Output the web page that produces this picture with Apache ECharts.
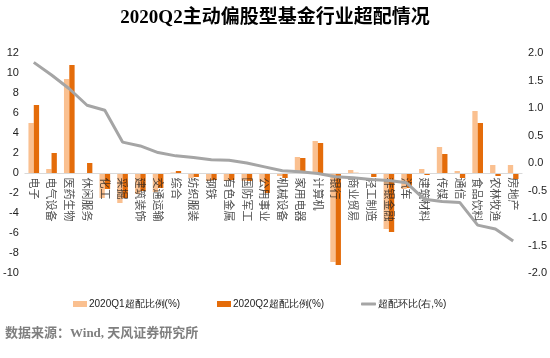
<!DOCTYPE html>
<html>
<head>
<meta charset="utf-8">
<script src="https://cdn.jsdelivr.net/npm/echarts@6/dist/echarts.min.js"></script>
<style>html,body{margin:0;padding:0;background:#fff;}#c{width:550px;height:358px;}</style>
</head>
<body>
<div id="c"></div>
<script>
const categories = ['电子','电气设备','医药生物','休闲服务','化工','采掘','建筑装饰','交通运输','综合','纺织服装','钢铁','有色金属','国防军工','公用事业','机械设备','家用电器','计算机','银行','商业贸易','轻工制造','非银金融','汽车','建筑材料','传媒','通信','食品饮料','农林牧渔','房地产'];
const q1 = [5.0, 0.4, 9.4, 0.0, -2.5, -3.0, -2.1, -1.9, 0.05, -0.5, -0.8, -0.8, -0.8, -0.9, -0.3, 1.6, 3.2, -8.9, 0.3, -0.1, -5.6, -1.6, 0.4, 2.6, 0.2, 6.2, 0.8, 0.8];
const q2 = [6.8, 2.0, 10.8, 1.0, -1.6, -2.5, -1.8, -1.5, 0.2, -0.4, -0.7, -0.7, -0.8, -2.0, -0.5, 1.5, 3.0, -9.2, 0.02, -0.4, -5.9, -1.5, -0.2, 1.9, -0.5, 5.0, -0.3, -0.6];
const change = [1.83, 1.60, 1.35, 1.05, 0.96, 0.38, 0.31, 0.19, 0.13, 0.10, 0.06, 0.05, 0.0, -0.07, -0.14, -0.16, -0.19, -0.25, -0.27, -0.30, -0.32, -0.36, -0.66, -0.70, -0.72, -1.13, -1.20, -1.42];
const seriesNames = ['2020Q1超配比例(%)', '2020Q2超配比例(%)', '超配环比(右,%)'];
const leftAxis = {min: -10, max: 12, interval: 2};
const rightAxis = {min: -2, max: 2, interval: 0.5};
const titleText = '2020Q2主动偏股型基金行业超配情况';
const sourceText = '数据来源：Wind, 天风证券研究所';

const numFont = '"Liberation Sans Narrow", "Liberation Sans", Arial, sans-serif';
const legendText = {fontSize: 10, color: '#222', fontFamily: numFont, padding: [0,0,0,-3]};
const chart = echarts.init(document.getElementById('c'), null, {renderer: 'canvas'});
chart.setOption({
  backgroundColor: '#fff',
  animation: false,
  title: {
    text: titleText, left: 'center', top: 4,
    textStyle: {fontSize: 19, fontWeight: 'bold', color: '#000', fontFamily: '"Liberation Serif", "Noto Sans CJK SC", serif'}
  },
  grid: {left: 20, right: 26, top: 53, bottom: 85, containLabel: false},
  legend: [
    {top: 294, left: 68, itemWidth: 14, itemHeight: 6, textStyle: legendText, data: [{name: seriesNames[0], icon: 'rect'}]},
    {top: 294, left: 212, itemWidth: 14, itemHeight: 6, textStyle: legendText, data: [{name: seriesNames[1], icon: 'rect'}]},
    {top: 294, left: 356, itemWidth: 15, itemHeight: 3, textStyle: legendText, data: [{name: seriesNames[2], icon: 'roundRect'}]}
  ],
  xAxis: {
    type: 'category', data: categories, z: 3,
    axisLine: {onZero: true, lineStyle: {color: '#D9D9D9', width: 1}},
    axisTick: {show: false},
    axisLabel: {show: false}
  },
  yAxis: [
    {type: 'value', min: leftAxis.min, max: leftAxis.max, interval: leftAxis.interval,
     axisLine: {show: false}, axisTick: {show: false}, splitLine: {show: false},
     axisLabel: {fontSize: 11, color: '#222', margin: 6, fontFamily: numFont}},
    {type: 'value', min: rightAxis.min, max: rightAxis.max, interval: rightAxis.interval,
     axisLine: {show: false}, axisTick: {show: false}, splitLine: {show: false},
     axisLabel: {fontSize: 11, color: '#222', margin: 6, fontFamily: numFont, formatter: v => v.toFixed(1)}}
  ],
  series: [
    {name: seriesNames[0], type: 'bar', data: q1, barWidth: '30%', barGap: '0%', itemStyle: {color: '#FAC090'}},
    {name: seriesNames[1], type: 'bar', data: q2, barWidth: '30%', barGap: '0%', itemStyle: {color: '#E46C0A'}},
    {name: 'labels', type: 'scatter', data: categories.map(c => [c, 0]), symbol: 'circle', symbolSize: 1, z: 4, silent: true,
     itemStyle: {color: 'rgba(0,0,0,0)'},
     label: {show: true, position: 'bottom', distance: 4, rotate: -90, align: 'left', verticalAlign: 'middle',
             formatter: p => categories[p.dataIndex], fontSize: 11, color: '#222', fontFamily: '"Noto Sans CJK SC", sans-serif'}},
    {name: seriesNames[2], type: 'line', yAxisIndex: 1, data: change, z: 5, symbol: 'none',
     lineStyle: {color: '#A5A5A5', width: 3}, itemStyle: {color: '#A5A5A5'}}
  ],
  graphic: [
    {type: 'text', left: 5, top: 327,
     style: {text: sourceText, fill: '#7F7F7F', font: 'bold 13px "Liberation Serif", "Noto Sans CJK SC", serif'}}
  ]
});
</script>
</body>
</html>
